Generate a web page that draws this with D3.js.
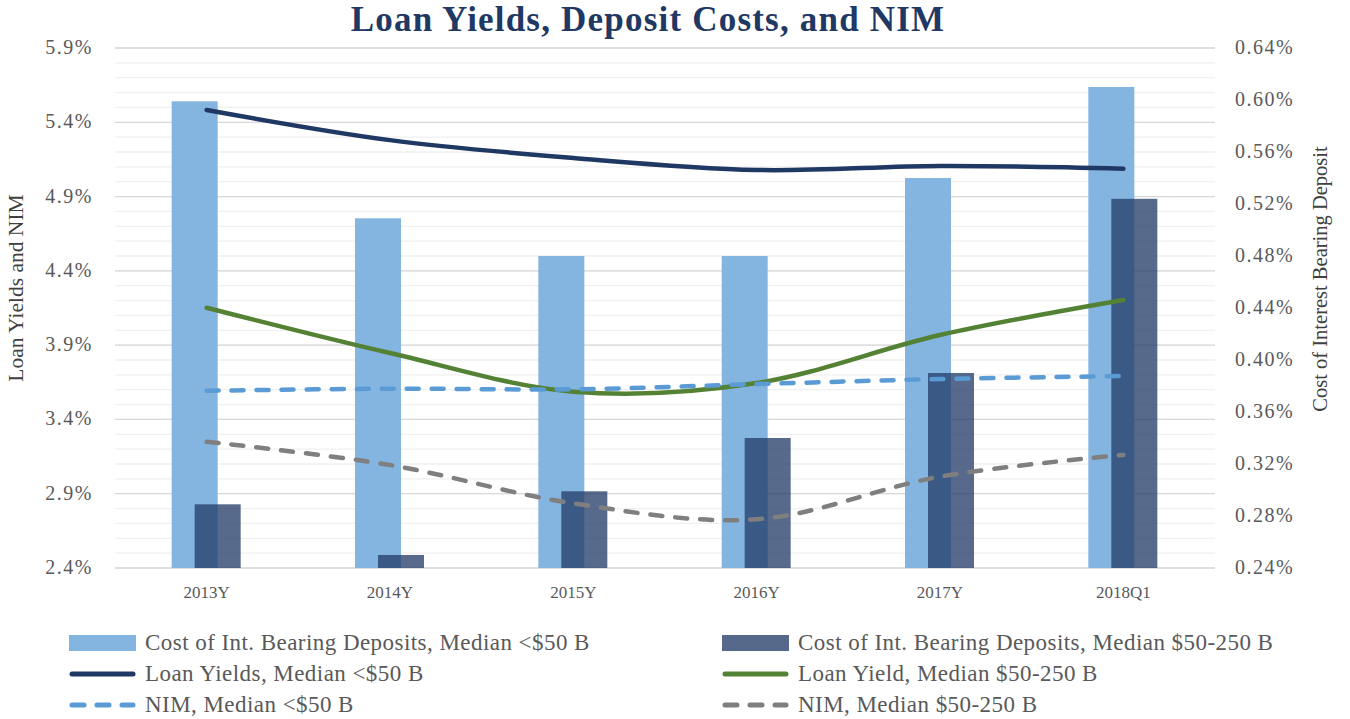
<!DOCTYPE html>
<html>
<head>
<meta charset="utf-8">
<script src="https://cdn.jsdelivr.net/npm/d3@7"></script>
<style>
	body { margin: 0; background: #fff; }
	text { font-family: "Liberation Serif", "DejaVu Serif", serif; }
</style>
</head>
<body>
<svg id="chart"></svg>
<script>
const categories = ['2013Y', '2014Y', '2015Y', '2016Y', '2017Y', '2018Q1'];

// right axis (%), bars
const depositCostSmall = [0.599, 0.509, 0.480, 0.480, 0.540, 0.610];
const depositCostMid = [0.289, 0.250, 0.299, 0.340, 0.390, 0.524];

// left axis (%), lines
const loanYieldSmall = [5.483, 5.280, 5.160, 5.079, 5.106, 5.088];
const loanYieldMid = [4.152, 3.847, 3.587, 3.645, 3.968, 4.204];
const nimSmall = [3.593, 3.607, 3.603, 3.638, 3.672, 3.692];
const nimMid = [3.250, 3.093, 2.835, 2.728, 3.015, 3.161];

const leftTicks = [2.4, 2.9, 3.4, 3.9, 4.4, 4.9, 5.4, 5.9];
const rightTicks = [0.24, 0.28, 0.32, 0.36, 0.40, 0.44, 0.48, 0.52, 0.56, 0.60, 0.64];

const width = 1350;
const height = 719;
const margin = { top: 48, right: 135, bottom: 151, left: 115 };

const svg = d3.select('#chart')
	.attr('width', width)
	.attr('height', height);

const x = d3.scaleBand()
	.domain(categories)
	.range([margin.left, width - margin.right]);

const yLeft = d3.scaleLinear()
	.domain([2.4, 5.9])
	.range([height - margin.bottom, margin.top]);

const yRight = d3.scaleLinear()
	.domain([0.24, 0.64])
	.range([height - margin.bottom, margin.top]);

// minor gridlines every 0.1%
const minor = d3.range(24, 60).map(d => d / 10);
svg.append('g')
	.selectAll('line')
	.data(minor)
	.enter()
		.append('line')
		.attr('x1', margin.left)
		.attr('x2', width - margin.right)
		.attr('y1', d => yLeft(d))
		.attr('y2', d => yLeft(d))
		.attr('stroke', '#f0f0f0')
		.attr('stroke-width', 1.3);

// major gridlines
svg.append('g')
	.selectAll('line')
	.data(leftTicks)
	.enter()
		.append('line')
		.attr('x1', margin.left)
		.attr('x2', width - margin.right)
		.attr('y1', d => yLeft(d))
		.attr('y2', d => yLeft(d))
		.attr('stroke', '#d9d9d9')
		.attr('stroke-width', 1.3);

// bars
const bars = svg.append('g');
bars.selectAll('.small')
	.data(depositCostSmall)
	.enter()
		.append('rect')
		.attr('x', (d, i) => x(categories[i]) + x.bandwidth() / 2 - 35)
		.attr('width', 46)
		.attr('y', d => yRight(d))
		.attr('height', d => yRight(0.24) - yRight(d))
		.attr('fill', '#84b4e0');

bars.selectAll('.mid')
	.data(depositCostMid)
	.enter()
		.append('rect')
		.attr('x', (d, i) => x(categories[i]) + x.bandwidth() / 2 - 12)
		.attr('width', 46)
		.attr('y', d => yRight(d))
		.attr('height', d => yRight(0.24) - yRight(d))
		.attr('fill', '#243d68')
		.attr('fill-opacity', 0.77);

// lines
const line = d3.line()
	.x((d, i) => x(categories[i]) + x.bandwidth() / 2)
	.y(d => yLeft(d))
	.curve(d3.curveCatmullRom.alpha(0.5));

const series = [
	{ values: loanYieldSmall, color: '#203864', dash: null },
	{ values: loanYieldMid, color: '#548235', dash: null },
	{ values: nimSmall, color: '#5b9bd5', dash: '12,13' },
	{ values: nimMid, color: '#7f7f7f', dash: '12,13' }
];

svg.append('g')
	.selectAll('path')
	.data(series)
	.enter()
		.append('path')
		.attr('d', d => line(d.values))
		.attr('fill', 'none')
		.attr('stroke', d => d.color)
		.attr('stroke-width', 4.5)
		.attr('stroke-linecap', 'round')
		.attr('stroke-dasharray', d => d.dash);

// axes labels
svg.append('g')
	.selectAll('text')
	.data(leftTicks)
	.enter()
		.append('text')
		.attr('x', 93)
		.attr('y', d => yLeft(d) + 6)
		.attr('text-anchor', 'end')
		.attr('font-size', 20)
		.attr('letter-spacing', 1.5)
		.attr('fill', '#595959')
		.text(d => d.toFixed(1) + '%');

svg.append('g')
	.selectAll('text')
	.data(rightTicks)
	.enter()
		.append('text')
		.attr('x', 1235)
		.attr('y', d => yRight(d) + 6)
		.attr('font-size', 20)
		.attr('letter-spacing', 1.5)
		.attr('fill', '#595959')
		.text(d => d.toFixed(2) + '%');

svg.append('g')
	.selectAll('text')
	.data(categories)
	.enter()
		.append('text')
		.attr('x', d => x(d) + x.bandwidth() / 2)
		.attr('y', 598)
		.attr('text-anchor', 'middle')
		.attr('font-size', 17)
		.attr('fill', '#595959')
		.text(d => d);

svg.append('text')
	.attr('transform', 'translate(23,288) rotate(-90)')
	.attr('text-anchor', 'middle')
	.attr('font-size', 21.5)
	.attr('fill', '#404040')
	.text('Loan Yields and NIM');

svg.append('text')
	.attr('transform', 'translate(1327,279) rotate(-90)')
	.attr('text-anchor', 'middle')
	.attr('font-size', 20.5)
	.attr('fill', '#404040')
	.text('Cost of Interest Bearing Deposit');

svg.append('text')
	.attr('x', 648)
	.attr('y', 31)
	.attr('text-anchor', 'middle')
	.attr('font-size', 35)
	.attr('font-weight', 'bold')
	.attr('letter-spacing', 1.2)
	.attr('fill', '#1f3864')
	.text('Loan Yields, Deposit Costs, and NIM');

// legend
const legendItems = [
	{ label: 'Cost of Int. Bearing Deposits, Median <$50 B', type: 'bar', color: '#84b4e0', col: 0, row: 0 },
	{ label: 'Cost of Int. Bearing Deposits, Median $50-250 B', type: 'bar', color: '#56698b', col: 1, row: 0 },
	{ label: 'Loan Yields, Median <$50 B', type: 'line', color: '#203864', col: 0, row: 1 },
	{ label: 'Loan Yield, Median $50-250 B', type: 'line', color: '#548235', col: 1, row: 1 },
	{ label: 'NIM, Median <$50 B', type: 'dash', color: '#5b9bd5', col: 0, row: 2 },
	{ label: 'NIM, Median $50-250 B', type: 'dash', color: '#7f7f7f', col: 1, row: 2 }
];

const legend = svg.append('g')
	.selectAll('g')
	.data(legendItems)
	.enter()
		.append('g')
		.attr('transform', d => 'translate(' + (d.col ? 722 : 69) + ',' + (643 + d.row * 31) + ')');

legend.filter(d => d.type === 'bar')
	.append('rect')
	.attr('x', 0)
	.attr('y', -8)
	.attr('width', 67)
	.attr('height', 16)
	.attr('fill', d => d.color);

legend.filter(d => d.type !== 'bar')
	.append('line')
	.attr('x1', 3)
	.attr('x2', 64)
	.attr('y1', 0)
	.attr('y2', 0)
	.attr('stroke', d => d.color)
	.attr('stroke-width', 5)
	.attr('stroke-linecap', 'round')
	.attr('stroke-dasharray', d => d.type === 'dash' ? '12,13' : null);

legend.append('text')
	.attr('x', 76)
	.attr('y', 7)
	.attr('font-size', 23)
	.attr('letter-spacing', 0.45)
	.attr('fill', '#595959')
	.text(d => d.label);
</script>
</body>
</html>
